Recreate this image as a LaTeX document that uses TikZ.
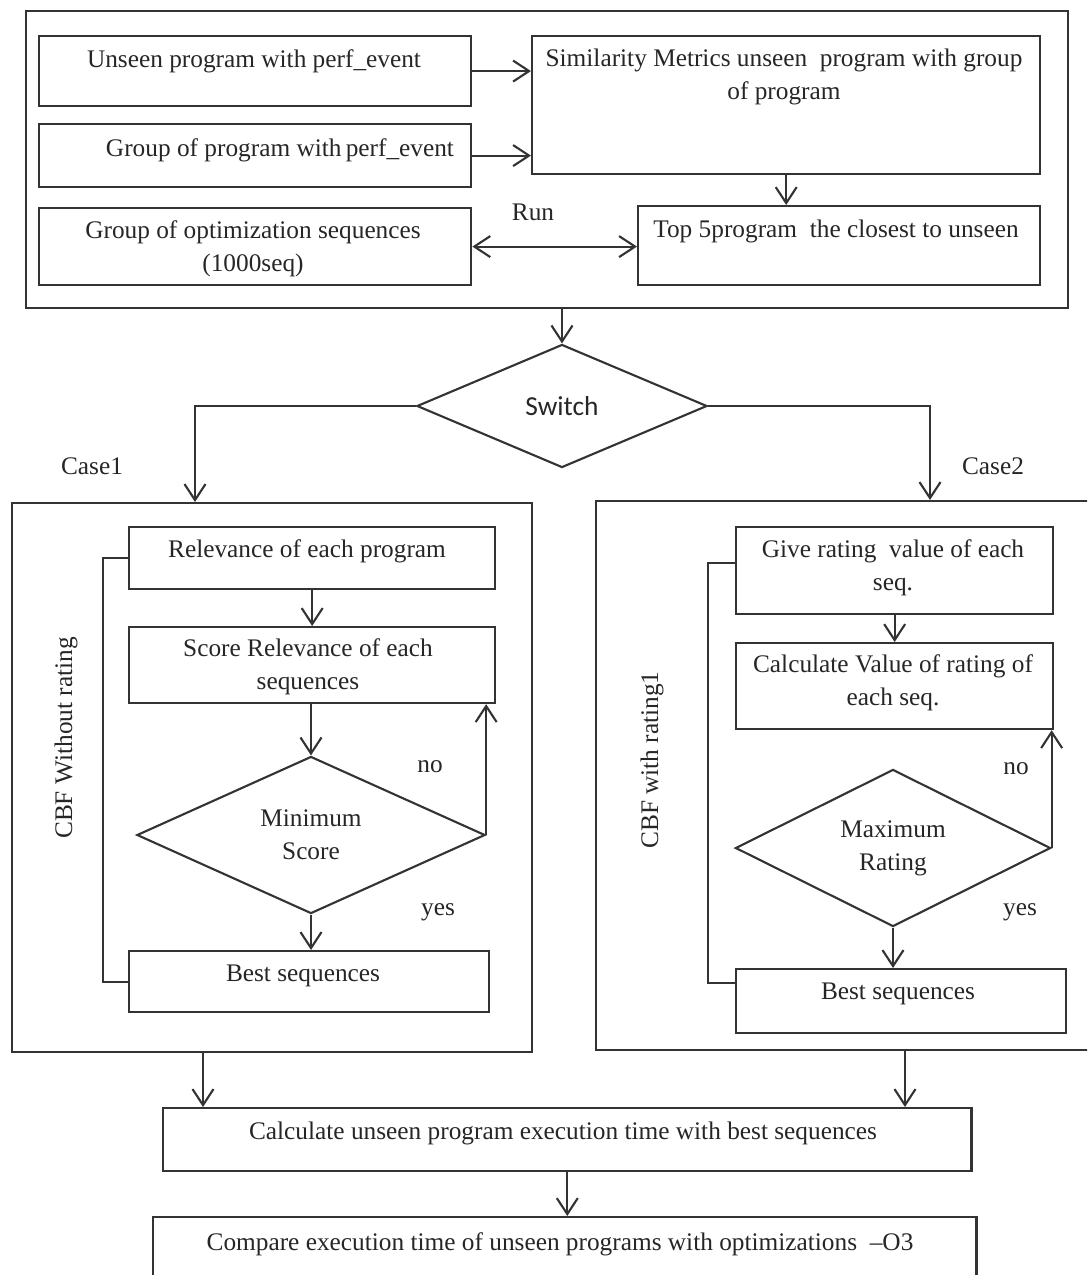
\documentclass[tikz,border=0pt]{standalone}
\usepackage{fontspec}
\setmainfont{Liberation Serif}
\newfontfamily\switchfont{Carlito}
\usetikzlibrary{arrows.meta,shapes.geometric}

\tikzset{
  blk/.style={draw=black!80,line width=0.6pt,rectangle,inner sep=0pt,anchor=north west},
  dec/.style={draw=black!80,line width=0.6pt,diamond,inner sep=0pt,align=center,
    text=black!85,font=\fontsize{7.2}{9.4}\selectfont},
  txt/.style={align=center,inner sep=0pt,text=black!85,font=\fontsize{7.2}{9.4}\selectfont},
  line/.style={draw=black!80,line width=0.6pt},
  >={Straight Barb[length=1.6mm,width=2.1mm]},
}

\begin{document}
\begin{tikzpicture}[x=0.01cm,y=-0.01cm]
\useasboundingbox (0,0) rectangle (1087,1275);
\clip (0,0) rectangle (1087,1275);

% upper block
\node[blk,minimum width=10.41cm,minimum height=2.97cm](upper) at (25,10) {};
\node[blk,minimum width=4.32cm,minimum height=0.70cm](unseen) at (38,35) {};
\node[blk,minimum width=4.32cm,minimum height=0.63cm](grp) at (38,123) {};
\node[blk,minimum width=4.32cm,minimum height=0.77cm](optseq) at (38,207) {};
\node[blk,minimum width=5.08cm,minimum height=1.38cm](simil) at (531,35) {};
\node[blk,minimum width=4.02cm,minimum height=0.79cm](top5) at (637,205) {};

\node[txt](unseenT) at (254,61) {Unseen program with perf\_event};
\node[txt](grpT) at (280,150) {Group of program with\,perf\_event};
\node[txt](optseqT) at (253,249) {Group of optimization sequences\\(1000seq)};
\node[txt](similT) at (784,77) {Similarity Metrics unseen\ \ program with group\\of program};
\node[txt](top5T) at (836,231) {Top 5program\ \ the closest to unseen};
\node[txt](run) at (533,212) {Run};

\draw [line,->] (unseen.east) -- (unseen.east -| simil.west);
\draw [line,->] (grp.east) -- (grp.east -| simil.west);
\draw [line,->] (simil.south) -- (simil.south |- top5.north);
\draw [line,<->] (optseq.east) -- (optseq.east -| top5.west);

% switch
\node[dec,aspect=2.36,minimum width=2.9cm,minimum height=1.23cm,font=\switchfont\fontsize{7.8}{9}\selectfont](switch) at (562,406) {Switch};
\draw [line,->] (switch.north |- upper.south) -- (switch.north);

\coordinate (case1in) at (195,502);
\coordinate (case2in) at (930,500);
\draw [line,->] (switch.west) -| (case1in);
\draw [line,->] (switch.east) -| (case2in);
\node[txt](case1lbl) at (92,466) {Case1};
\node[txt](case2lbl) at (993,466) {Case2};

% case 1
\node[blk,minimum width=5.20cm,minimum height=5.49cm](case1) at (11,502) {};
\node[blk,minimum width=3.66cm,minimum height=0.62cm](rel) at (128,526) {};
\node[blk,minimum width=3.66cm,minimum height=0.76cm](score) at (128,626) {};
\node[blk,minimum width=3.60cm,minimum height=0.61cm](best1) at (128,950) {};
\node[dec,aspect=2.22,minimum width=3.48cm,minimum height=1.57cm](minsc) at (311,835) {Minimum\\Score};

\node[txt](relT) at (307,551) {Relevance of each program};
\node[txt](scoreT) at (308,667) {Score Relevance of each\\sequences};
\node[txt](best1T) at (303,976) {Best sequences};
\node[txt,rotate=90](cbf1) at (66,738) {CBF Without rating};
\node[txt](no1) at (430,767) {no};
\node[txt](yes1) at (438,912) {yes};

\draw [line,->] (rel.south) -- (score.north);
\draw [line,->] (score.south -| minsc.north) -- (minsc.north);
\draw [line,->] (minsc.south) -- (minsc.south |- best1.north);
\draw [line,->] (minsc.east) -- (minsc.east |- score.south);
\draw [line] (rel.west) -- ++(-25,0) |- (best1.west);

% case 2
\node[blk,minimum width=4.97cm,minimum height=5.49cm](case2) at (595,500) {};
\node[blk,minimum width=3.17cm,minimum height=0.87cm](give) at (735,526) {};
\node[blk,minimum width=3.17cm,minimum height=0.86cm](calcv) at (735,642) {};
\node[blk,minimum width=3.30cm,minimum height=0.64cm](best2) at (735,968) {};
\node[dec,aspect=2.0,minimum width=3.15cm,minimum height=1.57cm](maxr) at (893,848) {Maximum\\Rating};

\node[txt](giveT) at (893,568) {Give rating\ \ value of each\\seq.};
\node[txt](calcvT) at (893,683) {Calculate Value of rating of\\each seq.};
\node[txt](best2T) at (898,994) {Best sequences};
\node[txt,rotate=90](cbf2) at (652,760) {CBF with rating1};
\node[txt](no2) at (1016,769) {no};
\node[txt](yes2) at (1020,912) {yes};

\draw [line,->] (give.south) -- (calcv.north);
\draw [line,->] (maxr.south) -- (maxr.south |- best2.north);
\draw [line,->] (maxr.east) -- (maxr.east |- calcv.south);
\draw [line] ([yshift=0.08cm]give.west) -- ++(-27,0) |- ([yshift=0.18cm]best2.west);

% bottom
\node[blk,minimum width=8.08cm,minimum height=0.63cm](calc) at (162,1107) {};
\node[blk,minimum width=8.23cm,minimum height=0.84cm](compare) at (152,1216) {};
\node[txt](calcT) at (563,1133) {Calculate unseen program execution time with best sequences};
\node[txt](compareT) at (560,1244) {Compare execution time of unseen programs with optimizations\ \ --O3};

\coordinate (case1out) at (203,1051);
\coordinate (case2out) at (905,1049);
\draw [line,->] (case1out) -- (case1out |- calc.north);
\draw [line,->] (case2out) -- (case2out |- calc.north);
\draw [line,->] (calc.south) -- (calc.south |- compare.north);
\end{tikzpicture}
\end{document}
